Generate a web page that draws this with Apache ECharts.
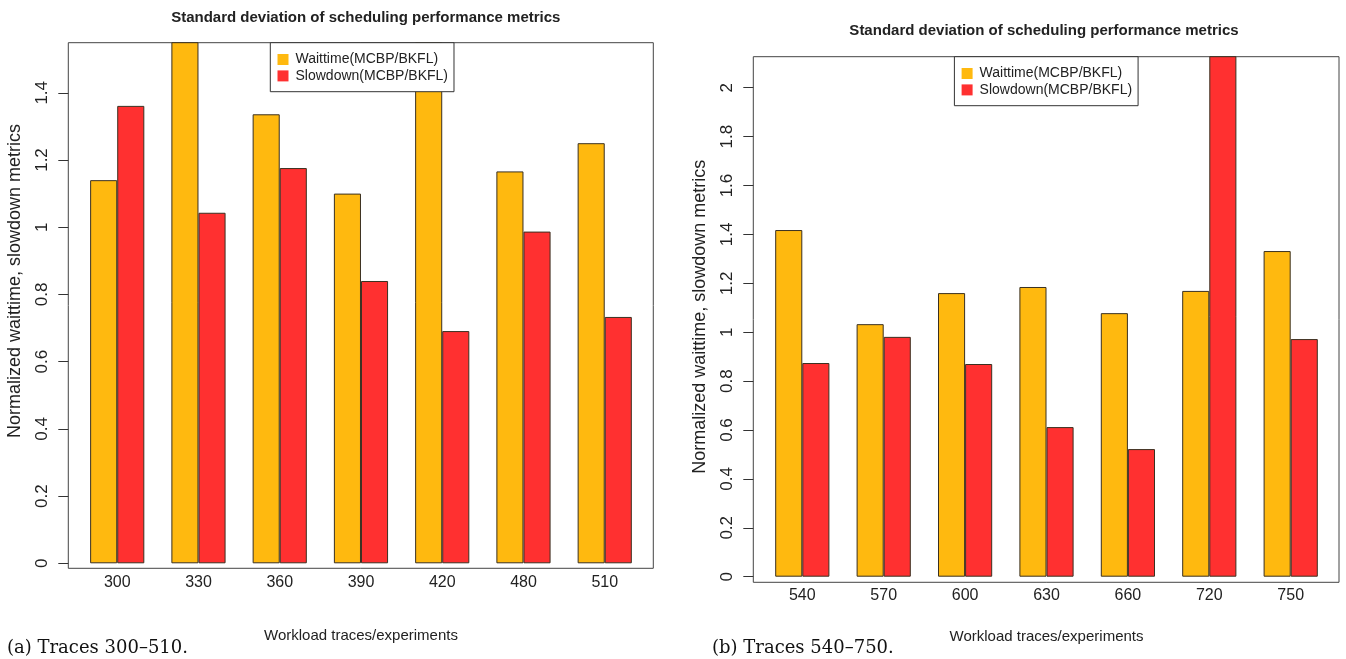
<!DOCTYPE html>
<html>
<head>
<meta charset="utf-8">
<script src="https://cdn.jsdelivr.net/npm/echarts@6/dist/echarts.min.js"></script>
<style>
html,body{margin:0;padding:0;background:#fff;}
#chart{width:1346px;height:659px;}
</style>
</head>
<body>
<div id="chart"></div>
<script>
// ---- data ----
const titleText = 'Standard deviation of scheduling performance metrics';
const yName = 'Normalized waittime, slowdown metrics';
const xName = 'Workload traces/experiments';
const seriesNames = ['Waittime(MCBP/BKFL)', 'Slowdown(MCBP/BKFL)'];

const leftCategories = ['300', '330', '360', '390', '420', '480', '510'];
const leftWaittime = [1.140, 1.62, 1.336, 1.100, 1.60, 1.166, 1.250];
const leftSlowdown = [1.361, 1.043, 1.176, 0.840, 0.691, 0.987, 0.733];
const leftTicks = [0, 0.2, 0.4, 0.6, 0.8, 1.0, 1.2, 1.4];

const rightCategories = ['540', '570', '600', '630', '660', '720', '750'];
const rightWaittime = [1.418, 1.033, 1.160, 1.185, 1.078, 1.169, 1.332];
const rightSlowdown = [0.874, 0.981, 0.870, 0.612, 0.522, 2.25, 0.972];
const rightTicks = [0, 0.2, 0.4, 0.6, 0.8, 1.0, 1.2, 1.4, 1.6, 1.8, 2.0];

const captionLeft = '(a) Traces 300\u2013510.';
const captionRight = '(b) Traces 540\u2013750.';

// ---- styles ----
const ORANGE = '#FFB90F';
const RED = '#FF3030';
const FONT = '"Liberation Sans", Arial, Helvetica, sans-serif';
const TXT = '#222';

const chart = echarts.init(document.getElementById('chart'), null, {renderer: 'canvas'});

function frameGrid(left, top, width, height) {
  return {left, top, width, height, show: true, borderColor: '#444', borderWidth: 1,
          backgroundColor: 'transparent', containLabel: false};
}
function hiddenX(gi) { return {gridIndex: gi, type: 'value', show: false, min: 0, max: 1}; }
function hiddenY(gi) { return {gridIndex: gi, type: 'value', show: false, min: 0, max: 1}; }

function dataX(gi, cats, nameGap) {
  return {
    gridIndex: gi, type: 'category', data: cats,
    axisLine: {show: false}, axisTick: {show: false},
    axisLabel: {fontSize: 16, color: TXT, fontFamily: FONT, margin: 11},
    name: xName, nameLocation: 'middle', nameGap: nameGap,
    nameTextStyle: {fontSize: 15, color: TXT, fontFamily: FONT}
  };
}
function dataY(gi, max, ticks, offset, nameGap, namePad) {
  return {
    gridIndex: gi, type: 'value', min: 0, max: max, offset: offset,
    splitLine: {show: false},
    axisLine: {show: false},
    axisTick: {show: true, length: 10, lineStyle: {color: '#333'}, customValues: ticks},
    axisLabel: {rotate: 90, fontSize: 17, color: TXT, fontFamily: FONT, margin: 17, customValues: ticks},
    name: yName, nameLocation: 'middle', nameGap: nameGap,
    nameTextStyle: {fontSize: 18, color: TXT, fontFamily: FONT, padding: namePad}
  };
}
function barSeries(name, data, color, xi, yi) {
  return {
    type: 'bar', name, data, xAxisIndex: xi, yAxisIndex: yi,
    barWidth: 27.1, barGap: '0%',
    itemStyle: {color, borderColor: '#3a3020', borderWidth: 1},
    emphasis: {disabled: true}, animation: false
  };
}
function legendAt(left, top) {
  return {
    data: seriesNames, orient: 'vertical', left, top,
    icon: 'rect', itemWidth: 11, itemHeight: 11, itemGap: 0,
    padding: [8.6, 6, 7.6, 7.2],
    backgroundColor: '#fff', borderColor: '#333', borderWidth: 1,
    textStyle: {fontSize: 14, lineHeight: 16.4, color: TXT, fontFamily: FONT, padding: [0, 0, 0, 2]},
    itemStyle: {borderWidth: 0},
    selectedMode: false, z: 10
  };
}

const option = {
  animation: false,
  backgroundColor: '#fff',
  title: [
    {text: titleText, left: 360.8, top: 5, textAlign: 'center',
     textStyle: {fontSize: 15, fontWeight: 'bold', color: TXT, fontFamily: FONT}},
    {text: titleText, left: 1039, top: 18, textAlign: 'center',
     textStyle: {fontSize: 15, fontWeight: 'bold', color: TXT, fontFamily: FONT}}
  ],
  legend: [legendAt(270.3, 42.7), legendAt(954.4, 56.7)],
  grid: [
    frameGrid(68.3, 42.7, 585, 525.6),
    {left: 76.6, top: 42.7, width: 568.75, height: 520.6},
    frameGrid(753.3, 56.7, 585.7, 525.6),
    {left: 761.6, top: 56.7, width: 569.8, height: 520.0}
  ],
  xAxis: [hiddenX(0), dataX(1, leftCategories, 65), hiddenX(2), dataX(3, rightCategories, 53)],
  yAxis: [hiddenY(0), dataY(1, 1.549, leftTicks, 8.3, 44, [0, 0, 0, 44]), hiddenY(2), dataY(3, 2.127, rightTicks, 8.3, 44, 0)],
  series: [
    barSeries(seriesNames[0], leftWaittime, ORANGE, 1, 1),
    barSeries(seriesNames[1], leftSlowdown, RED, 1, 1),
    barSeries(seriesNames[0], rightWaittime, ORANGE, 3, 3),
    barSeries(seriesNames[1], rightSlowdown, RED, 3, 3)
  ],
  graphic: [
    {type: 'text', left: 7, top: 639, style: {text: captionLeft, fontSize: 18, fill: '#111', fontFamily: '"DejaVu Serif", serif'}},
    {type: 'text', left: 712, top: 639, style: {text: captionRight, fontSize: 18, fill: '#111', fontFamily: '"DejaVu Serif", serif'}}
  ]
};
chart.setOption(option);
</script>
</body>
</html>
